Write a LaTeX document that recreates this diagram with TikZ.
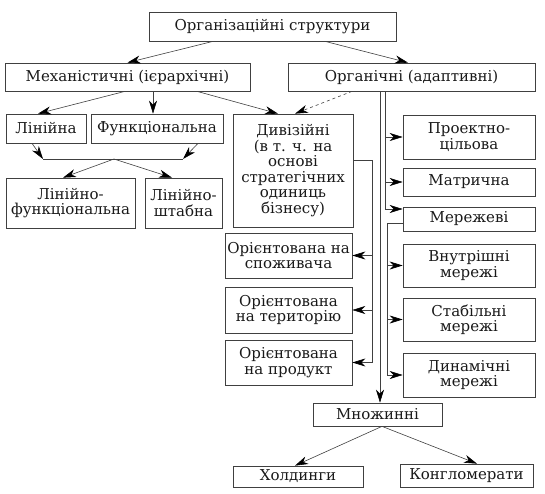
\documentclass[tikz,border=0pt]{standalone}
\usepackage{fontspec}
\setmainfont{DejaVu Serif}
\usetikzlibrary{arrows.meta,calc}
\begin{document}
\begin{tikzpicture}[x=1pt,y=-1pt,
  box/.style={draw=black!75,line width=0.7pt,inner sep=0pt,align=center,
    text=black!90,font=\fontsize{15}{15.5}\selectfont},
  conn/.style={draw=black!75,line width=0.6pt,-{Stealth[length=13pt,width=8pt,inset=4pt,color=black]}},
  plain/.style={draw=black!75,line width=0.6pt}]
\useasboundingbox (0,0) rectangle (545,494);
% nodes
\node[box,minimum width=247,minimum height=29] (org) at (272.5,26.5) {Організаційні структури};
\node[box,minimum width=245,minimum height=28] (mech) at (127.5,77) {Механістичні (ієрархічні)};
\node[box,minimum width=247,minimum height=28] (organ) at (411.5,77) {Органічні (адаптивні)};
\node[box,minimum width=80,minimum height=29] (lin) at (46,128.5) {Лінійна};
\node[box,minimum width=132,minimum height=29] (func) at (157,128.5) {Функціональна};
\node[box,minimum width=120,minimum height=113] (div) at (293,170.5) {Дивізійні\\(в т. ч. на\\основі\\стратегічних\\одиниць\\бізнесу)};
\node[box,minimum width=129,minimum height=50] (linf) at (70.5,203) {Лінійно-\\функціональна};
\node[box,minimum width=77,minimum height=50] (linsh) at (183.5,203) {Лінійно-\\штабна};
\node[box,minimum width=132,minimum height=44] (proj) at (469,137) {Проектно-\\цільова};
\node[box,minimum width=132,minimum height=28] (matr) at (469,182) {Матрична};
\node[box,minimum width=132,minimum height=24] (merezh) at (469,219) {Мережеві};
\node[box,minimum width=132,minimum height=43] (vnut) at (469,265.5) {Внутрішні\\мережі};
\node[box,minimum width=132,minimum height=43] (stab) at (469,319.5) {Стабільні\\мережі};
\node[box,minimum width=132,minimum height=44] (dyn) at (469,375) {Динамічні\\мережі};
\node[box,minimum width=127,minimum height=45] (or1) at (288.5,255.5) {Орієнтована на\\споживача};
\node[box,minimum width=127,minimum height=46] (or2) at (288.5,310) {Орієнтована\\на територію};
\node[box,minimum width=127,minimum height=45] (or3) at (288.5,362.5) {Орієнтована\\на продукт};
\node[box,minimum width=129,minimum height=23] (mnozh) at (377.5,414.5) {Множинні};
\node[box,minimum width=130,minimum height=21] (hold) at (298,476.5) {Холдинги};
\node[box,minimum width=133,minimum height=23] (kong) at (466.5,475.5) {Конгломерати};
% helper coordinates
\coordinate (m1) at (43,159);
\coordinate (m2) at (183,159);
\coordinate (mc) at (114,159);
\coordinate (xA) at (380,0);
\coordinate (xB) at (385,0);
\coordinate (xC) at (387,0);
\coordinate (xD) at (372,0);
% connectors
\draw[conn] ([xshift=-59.5]org.south) -- (mech.north);
\draw[conn] ([xshift=52.5]org.south) -- ([xshift=-3.5]organ.north);
\draw[conn] ([xshift=-2.5]mech.south) -- ([xshift=-8]lin.north);
\draw[conn] ([xshift=-4]func.north |- mech.south) -- ([xshift=-4]func.north);
\draw[conn] ([xshift=69.5]mech.south) -- ([xshift=-15]div.north);
\draw[conn,dashed] ([xshift=-59.5]organ.south) -- ([xshift=2]div.north);
\draw[conn] ([xshift=-14]lin.south) -- (m1);
\draw[conn] ([xshift=41]func.south) -- (m2);
\draw[plain] (m1) -- (m2);
\draw[conn] (mc) -- ([xshift=-7.5]linf.north);
\draw[conn] (mc) -- ([xshift=-11.5]linsh.north);
% organic branches
\draw[conn] (organ.south -| xA) -- (mnozh.north -| xA);
\draw[conn] (organ.south -| xB) |- ([yshift=10]merezh.west);
\draw[conn] (proj.west -| xB) -- (proj.west);
\draw[conn] (matr.west -| xB) -- (matr.west);
\draw[plain] ([yshift=-4]merezh.west) -| (dyn.west -| xC);
\draw[conn] (vnut.west -| xC) -- (vnut.west);
\draw[conn] (stab.west -| xC) -- (stab.west);
\draw[conn] (dyn.west -| xC) -- (dyn.west);
% divisional branches
\draw[plain] ([yshift=10.5]div.east) -| (or3.east -| xD);
\draw[conn] (or1.east -| xD) -- (or1.east);
\draw[conn] (or2.east -| xD) -- (or2.east);
\draw[conn] (or3.east -| xD) -- (or3.east);
% multiple
\draw[conn] ([xshift=4.5]mnozh.south) -- ([xshift=-3]hold.north);
\draw[conn] ([xshift=4.5]mnozh.south) -- ([xshift=10.5]kong.north);
\end{tikzpicture}
\end{document}
